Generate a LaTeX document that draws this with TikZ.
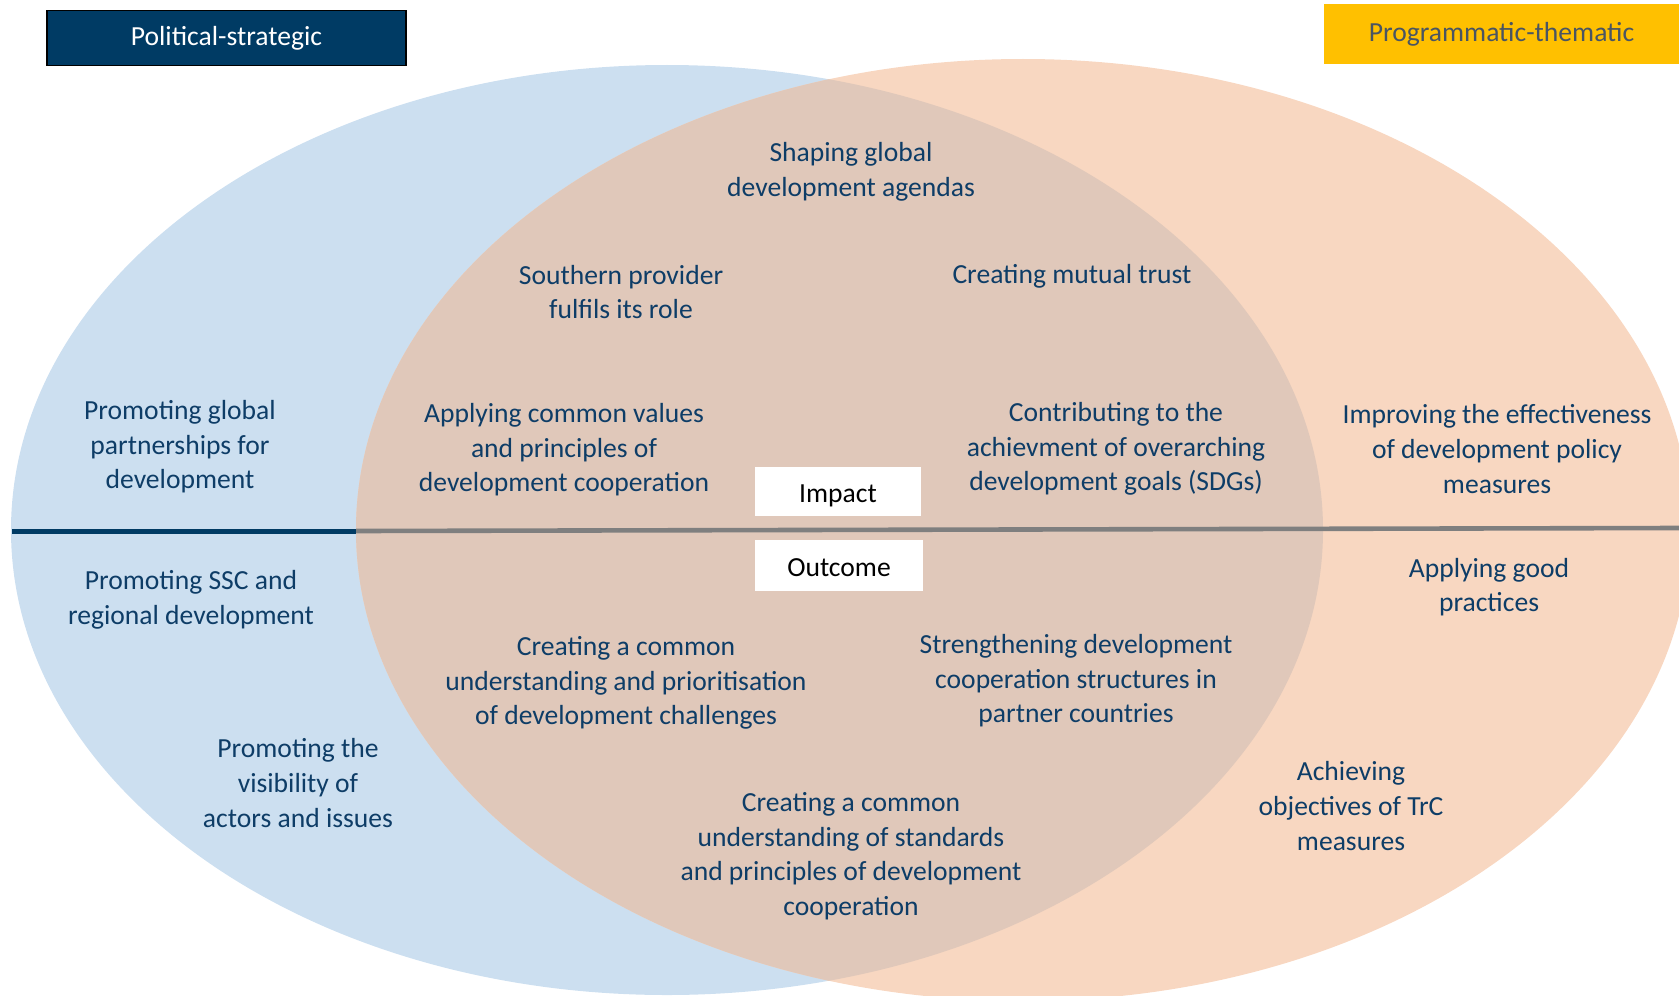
\documentclass[tikz,border=0pt]{standalone}
\usepackage{fontspec}
\setmainfont{Carlito}
\definecolor{blueF}{HTML}{CCDFF0}
\definecolor{orangeF}{HTML}{F8D7C1}
\definecolor{overF}{HTML}{E0C8BA}
\definecolor{navy}{HTML}{003B64}
\definecolor{txt}{HTML}{0E3D67}
\definecolor{gold}{HTML}{FFC000}
\definecolor{goldtxt}{HTML}{4A5563}
\definecolor{lineGray}{HTML}{7F7F7F}
\begin{document}
\begin{tikzpicture}[x=0.5pt,y=-0.5pt,
  lbl/.style={text=txt, align=center, inner sep=0pt, font=\fontsize{13.8}{17.3}\selectfont},
  headbox/.style={minimum width=#1, inner sep=0pt, font=\fontsize{13.8}{16}\selectfont},
  whitebox/.style={fill=white, inner sep=0pt, text=black, text height=11.3pt, text depth=0pt, font=\fontsize{13.8}{16}\selectfont}]
\useasboundingbox (0,0) rectangle (1679,995);
\begin{scope}
  \clip (0,0) rectangle (1679,995);
  \fill[blueF] (667,530) ellipse [x radius=328pt, y radius=232.5pt];
  \fill[orangeF] (1023,530) ellipse [x radius=333.5pt, y radius=235.5pt];
  \begin{scope}
    \clip (667,530) ellipse [x radius=328pt, y radius=232.5pt];
    \fill[overF] (1023,530) ellipse [x radius=333.5pt, y radius=235.5pt];
  \end{scope}
\end{scope}
% dividing line
\coordinate (L0) at (12,531);
\coordinate (L1) at (356,531);
\coordinate (L2) at (1679,528);
\draw[navy, line width=2.5pt] (L0) -- (L1);
\draw[lineGray, line width=2.3pt] (L1) -- (L2);
% header boxes
\node[headbox=179.5pt, minimum height=27.5pt, fill=navy, draw=black, line width=0.9pt, text=white] (pol) at (226.5,38) {Political-strategic};
\node[headbox=177.5pt, minimum height=30pt, fill=gold, text=goldtxt] (prog) at (1501.5,34) {Programmatic-thematic};
% impact / outcome
\node[whitebox, minimum width=83pt, minimum height=24.5pt] (impact) at (838,491.5) {Impact};
\node[whitebox, minimum width=84pt, minimum height=25.5pt] (outcome) at (839,565.5) {Outcome};
% labels
\node[lbl] (t1) at (851,172) {Shaping global\\development agendas};
\node[lbl] (t2) at (621,292) {Southern provider\\fulfils its role};
\node[lbl] (t3) at (1072,276) {Creating mutual trust};
\node[lbl] (t4) at (180,447) {Promoting global\\partnerships for\\development};
\node[lbl] (t5) at (564,450) {Applying common values\\and principles of\\development cooperation};
\node[lbl] (t6) at (1116,449) {Contributing to the\\achievment of overarching\\development goals (SDGs)};
\node[lbl] (t7) at (1497,449) {Improving the effectiveness\\of development policy\\measures};
\node[lbl] (t8) at (191,600) {Promoting SSC and\\regional development};
\node[lbl] (t9) at (1489,587) {Applying good\\practices};
\node[lbl] (t10) at (626,683) {Creating a common\\understanding and prioritisation\\of development challenges};
\node[lbl] (t11) at (1076,681) {Strengthening development\\cooperation structures in\\partner countries};
\node[lbl] (t12) at (298,783) {Promoting the\\visibility of\\actors and issues};
\node[lbl] (t13) at (1351,806) {Achieving\\objectives of TrC\\measures};
\node[lbl] (t14) at (851,856) {Creating a common\\understanding of standards\\and principles of development\\cooperation};
\end{tikzpicture}
\end{document}
